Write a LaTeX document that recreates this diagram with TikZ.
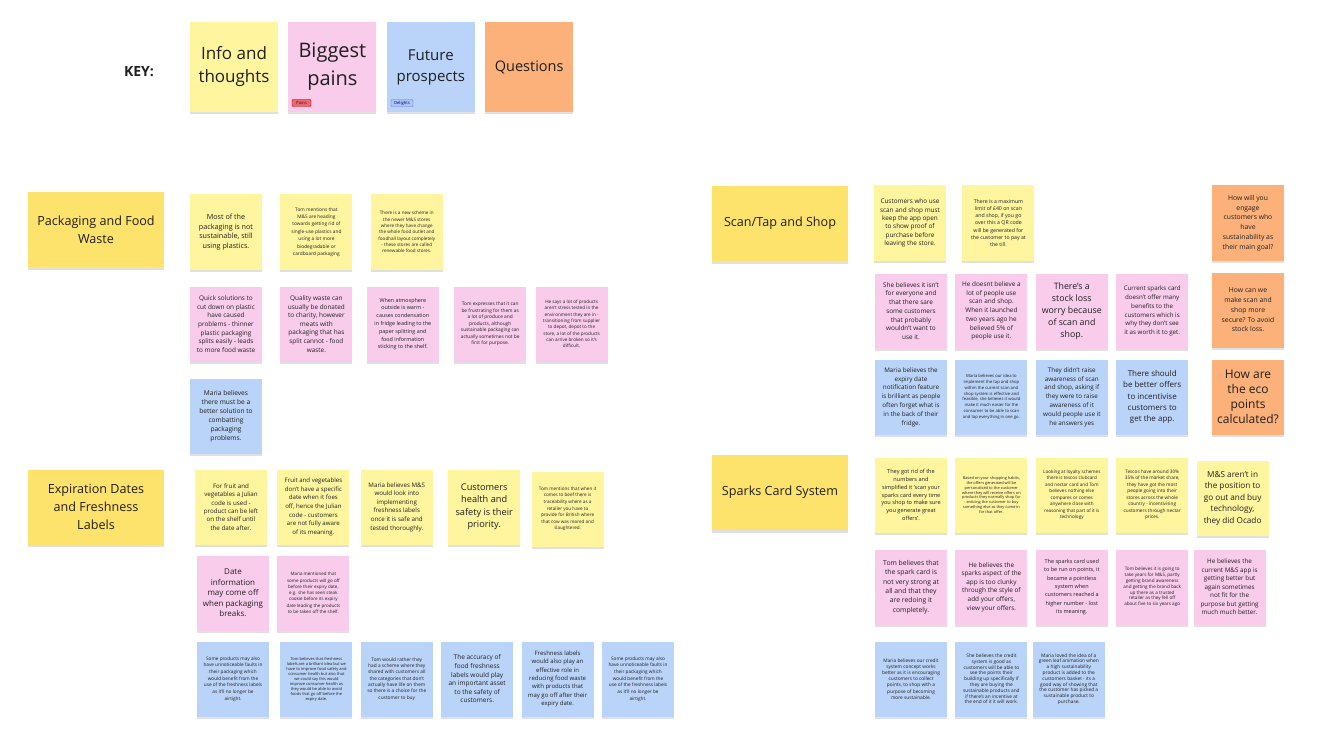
\documentclass[tikz,border=0pt]{standalone}
\usepackage{fontspec}
\setmainfont{Open Sans}
\usetikzlibrary{positioning,shadows}

\definecolor{ink}{HTML}{1F1F1F}
\definecolor{noteyel}{HTML}{FFF59F}
\definecolor{headyel}{HTML}{FDE26C}
\definecolor{notepink}{HTML}{F9CCEC}
\definecolor{noteblue}{HTML}{BAD3F9}
\definecolor{noteorange}{HTML}{FCB17A}
\definecolor{tagred}{HTML}{EC6870}
\definecolor{tagblue}{HTML}{A9C6F5}

\begin{document}
\begin{tikzpicture}[
  x=1pt, y=-1pt,
  fs/.style 2 args={font=\fontsize{#1}{#2}\selectfont},
  note/.style={minimum width=72pt, minimum height=75pt, inner sep=1pt,
      align=center, text=ink,
      drop shadow={shadow xshift=0pt, shadow yshift=-2.5pt,
                   opacity=.12, fill=black}},
  yel/.style={note, fill=noteyel},
  pink/.style={note, fill=notepink},
  blue/.style={note, fill=noteblue},
  orng/.style={note, fill=noteorange},
  keynote/.style={note, minimum width=88pt, minimum height=90pt},
  head/.style={note, fill=headyel, minimum width=136pt,
      fs={12.6}{18}},
  tag/.style={rounded corners=1pt, inner sep=0pt, minimum height=7pt,
      fs={4.2}{5}, line width=.4pt}
]
\fill[white] (0,0) rectangle (1325,754);
\useasboundingbox (0,0) rectangle (1325,754);

% key
\node[font=\bfseries\fontsize{14}{16}\selectfont, text=ink] (key) at (139,72) {KEY:};
\node[keynote, fill=noteyel, fs={17}{23}] (kinfo) at (234,67) {Info and\\thoughts};
\node[keynote, fill=notepink, fs={20}{28}, right=10pt of kinfo] (kpain) {Biggest\\pains};
\node[keynote, fill=noteblue, fs={15}{21}, right=10pt of kpain] (kfut) {Future\\prospects};
\node[keynote, fill=noteorange, fs={14.5}{20}, right=10pt of kfut] (kq) {Questions};
\node[tag, fill=tagred, draw=red!65!black, text=red!35!black,
  minimum width=19pt] (tpain) at (301.5,103) {Pains};
\node[tag, fill=tagblue, draw=blue!55, text=blue!45!black,
  minimum width=22pt] (tfut) at (402,103) {Delights};

% headers
\node[head] (hpack) at (96,229.5) {Packaging and Food\\Waste};
\node[head] (hexp) at (96,507) {Expiration Dates\\and Freshness\\Labels};
\node[head] (hscan) at (780,223.5) {Scan/Tap and Shop};
\node[head] (hspark) at (780,492.5) {Sparks Card System};

% packaging and food waste
\node[yel, fs={7.2}{9.6}] (p1) at (226,232)
  {Most of the\\packaging is not\\sustainable, still\\using plastics.};
\node[yel, fs={4.8}{7.4}, right=18pt of p1] (p2)
  {Tom mentions that\\M\&S are heading\\towards getting rid of\\single-use plastics and\\using a lot more\\biodegradable or\\cardboard packaging};
\node[yel, fs={4.6}{6.3}, right=18pt of p2] (p3)
  {There is a new scheme in\\the newer M\&S stores\\where they have change\\the whole food outlet and\\foodhall layout completely\\- these stores are called\\renewable food stores.};
\node[pink, fs={6.4}{8.6}] (p4) at (226,324)
  {Quick solutions to\\cut down on plastic\\have caused\\problems - thinner\\plastic packaging\\splits easily - leads\\to more food waste};
\node[pink, fs={6.4}{8.6}, right=18pt of p4] (p5)
  {Quality waste can\\usually be donated\\to charity, however\\meats with\\packaging that has\\split cannot - food\\waste.};
\node[pink, fs={5.4}{7.8}, right=14pt of p5] (p6)
  {When atmosphere\\outside is warm -\\causes condensation\\in fridge leading to the\\paper splitting and\\food information\\sticking to the shelf.};
\node[pink, fs={4.8}{6.5}, right=15pt of p6] (p7)
  {Tom expresses that it can\\be frustrating for them as\\a lot of produce and\\products, although\\sustainable packaging can\\actually sometimes not be\\first for purpose.};
\node[pink, fs={4.6}{6.3}, right=9pt of p7] (p8)
  {He says a lot of products\\aren't stress tested in the\\environment they are in -\\transitioning from supplier\\to depot, depot to the\\store, a lot of the products\\can arrive broken so it's\\difficult.};
\node[blue, fs={6.6}{9}, below=17pt of p4] (p9)
  {Maria believes\\there must be a\\better solution to\\combatting\\packaging\\problems.};

% expiration dates and freshness labels
\node[yel, fs={6.2}{8.4}] (e1) at (231,507)
  {For fruit and\\vegetables a Julian\\code is used -\\product can be left\\on the shelf until\\the date after.};
\node[yel, fs={6.1}{8.6}, right=10pt of e1] (e2)
  {Fruit and vegetables\\don't have a specific\\date when it foes\\off, hence the Julian\\code - customers\\are not fully aware\\of its meaning.};
\node[yel, fs={6.2}{8.6}, right=11pt of e2] (e3)
  {Maria believes M\&S\\would look into\\implementing\\freshness labels\\once it is safe and\\tested thoroughly.};
\node[yel, fs={9.2}{12.5}, right=15pt of e3] (e4)
  {Customers\\health and\\safety is their\\priority.};
\node[yel, fs={4.6}{6.6}, right=11pt of e4, yshift=-2pt] (e5)
  {Tom mentions that when it\\comes to beef there is\\traceability where as a\\retailer you have to\\provide for British where\\that cow was reared and\\slaughtered.};
\node[pink, fs={8}{10.5}] (e6) at (233,593)
  {Date\\information\\may come off\\when packaging\\breaks.};
\node[pink, fs={4.5}{6.3}, right=8pt of e6] (e7)
  {Maria mentioned that\\some products will go off\\before their expiry date,\\e.g. she has seen steak\\cookie before its expiry\\date leading the products\\to be taken off the shelf.};
\node[blue, fs={4.7}{6.7}] (b1) at (233,679)
  {Some products may also\\have unnoticeable faults in\\their packaging which\\would benefit from the\\use of the freshness labels\\as it'll no longer be\\airtight.};
\node[blue, fs={4}{5}, right=11pt of b1] (b2)
  {Tom believes that freshness\\labels are a brilliant idea but we\\have to improve food safety and\\consumer health but also that\\we could say this would\\improve consumer health as\\they would be able to avoid\\foods that go off before the\\expiry date.};
\node[blue, fs={4.8}{6.3}, right=8pt of b2] (b3)
  {Tom would rather they\\had a scheme where they\\shared with customers all\\the categories that don't\\actually have life on them\\so there is a choice for the\\customer to buy};
\node[blue, fs={6.5}{8.6}, right=8pt of b3] (b4)
  {The accuracy of\\food freshness\\labels would play\\an important asset\\to the safety of\\customers.};
\node[blue, fs={6}{8.3}, right=8pt of b4] (b5)
  {Freshness labels\\would also play an\\effective role in\\reducing food waste\\with products that\\may go off after their\\expiry date.};
\node[blue, fs={4.7}{6.7}, right=8pt of b5] (b6)
  {Some products may also\\have unnoticeable faults in\\their packaging which\\would benefit from the\\use of the freshness labels\\as it'll no longer be\\airtight.};

% scan/tap and shop
\node[yel, fs={6.4}{8.4}] (s1) at (910,223)
  {Customers who use\\scan and shop must\\keep the app open\\to show proof of\\purchase before\\leaving the store.};
\node[yel, fs={5.2}{7.1}, right=16pt of s1] (s2)
  {There is a maximum\\limit of £40 on scan\\and shop, if you go\\over this a QR code\\will be generated for\\the customer to pay at\\the till.};
\node[pink, fs={6.4}{8.7}] (s3) at (911,311)
  {She believes it isn't\\for everyone and\\that there sare\\some customers\\that probably\\wouldn't want to\\use it.};
\node[pink, fs={6.4}{8.7}, right=8pt of s3] (s4)
  {He doesnt believe a\\lot of people use\\scan and shop.\\When it launched\\two years ago he\\believed 5\% of\\people use it.};
\node[pink, fs={8.8}{12}, right=8pt of s4] (s5)
  {There's a\\stock loss\\worry because\\of scan and\\shop.};
\node[pink, fs={6.2}{8.8}, right=8pt of s5] (s6)
  {Current sparks card\\doesn't offer many\\benefits to the\\customers which is\\why they don't see\\it as worth it to get.};
\node[blue, fs={6.3}{8.8}] (s7) at (911,397)
  {Maria believes the\\expiry date\\notification feature\\is brilliant as people\\often forget what is\\in the back of their\\fridge.};
\node[blue, fs={4.2}{5.8}, right=8pt of s7] (s8)
  {Maria believes our idea to\\implement the tap and shop\\within the current scan and\\shop system is effective and\\feasible, she believes it would\\make it much easier for the\\consumer to be able to scan\\and tap everything in one go.};
\node[blue, fs={6.3}{8.8}, right=8pt of s8] (s9)
  {They didn't raise\\awareness of scan\\and shop, asking if\\they were to raise\\awareness of it\\would people use it\\he answers yes};
\node[blue, fs={8}{11.3}, right=8pt of s9] (s10)
  {There should\\be better offers\\to incentivise\\customers to\\get the app.};

% questions
\node[orng, fs={6.8}{9.8}] (q1) at (1248,223)
  {How will you\\engage\\customers who\\have\\sustainability as\\their main goal?};
\node[orng, fs={6.8}{9.8}] (q2) at (1248,310)
  {How can we\\make scan and\\shop more\\secure? To avoid\\stock loss.};
\node[orng, fs={12}{15}] (q3) at (1248,397)
  {How are\\the eco\\points\\calculated?};

% sparks card system
\node[yel, fs={5.6}{7.8}] (k1) at (911,495)
  {They got rid of the\\numbers and\\simplified it 'scan your\\sparks card every time\\you shop to make sure\\you generate great\\offers'.};
\node[yel, fs={3.9}{4.9}, right=8pt of k1] (k2)
  {Based on your shopping habits,\\the offers generated will be\\personalised to the customer\\where they will receive offers on\\products they normally shop for\\- enticing the customer to buy\\something else as they come in\\for that offer.};
\node[yel, fs={4.6}{6.5}, right=8pt of k2] (k3)
  {Looking at loyalty schemes\\there is tescos clubcard\\and nectar card and Tom\\believes nothing else\\compares or comes\\anywhere close with\\reasoning that part of it is\\technology};
\node[yel, fs={4.7}{6.5}, right=8pt of k3] (k4)
  {Tescos have around 30\%\\35\% of the market share,\\they have got the most\\people going into their\\stores across the whole\\country - incentivising\\customers through nectar\\prices.};
\node[yel, fs={8.2}{11.5}, right=8pt of k4, yshift=-3pt] (k5)
  {M\&S aren't in\\the position to\\go out and buy\\technology,\\they did Ocado};
\node[pink, fs={6.8}{9.3}] (l1) at (911,587)
  {Tom believes that\\the spark card is\\not very strong at\\all and that they\\are redoing it\\completely.};
\node[pink, fs={6.4}{8.6}, right=8pt of l1] (l2)
  {He believes the\\sparks aspect of the\\app is too clunky\\through the style of\\add your offers,\\view your offers.};
\node[pink, fs={5.5}{8.3}, right=8pt of l2] (l3)
  {The sparks card used\\to be run on points, it\\became a pointless\\system when\\customers reached a\\higher number - lost\\its meaning.};
\node[pink, fs={4.6}{5.9}, right=8pt of l3] (l4)
  {Tom believes it is going to\\take years for M\&S, partly\\getting brand awareness\\and getting the brand back\\up there as a trusted\\retailer as they fell off\\about five to six years ago};
\node[pink, fs={6.3}{8.5}, right=5pt of l4] (l5)
  {He believes the\\current M\&S app is\\getting better but\\again sometimes\\not fit for the\\purpose but getting\\much much better.};
\node[blue, fs={4.8}{6.2}] (m1) at (911,679)
  {Maria believes our credit\\system concept works\\better as it is encouraging\\customers to collect\\points, to shop with a\\purpose of becoming\\more sustainable.};
\node[blue, fs={4.8}{5.8}, right=8pt of m1] (m2)
  {She believes the credit\\system is good as\\customers will be able to\\see the points their\\building up specifically if\\they are buying the\\sustainable products and\\if there's an incentive at\\the end of it it will work.};
\node[blue, fs={4.8}{5.8}, right=5pt of m2] (m3)
  {Maria loved the idea of a\\green leaf animation when\\a high sustainability\\product is added to the\\customers basket - its a\\good way of showing that\\the customer has picked a\\sustainable product to\\purchase.};
\end{tikzpicture}
\end{document}
